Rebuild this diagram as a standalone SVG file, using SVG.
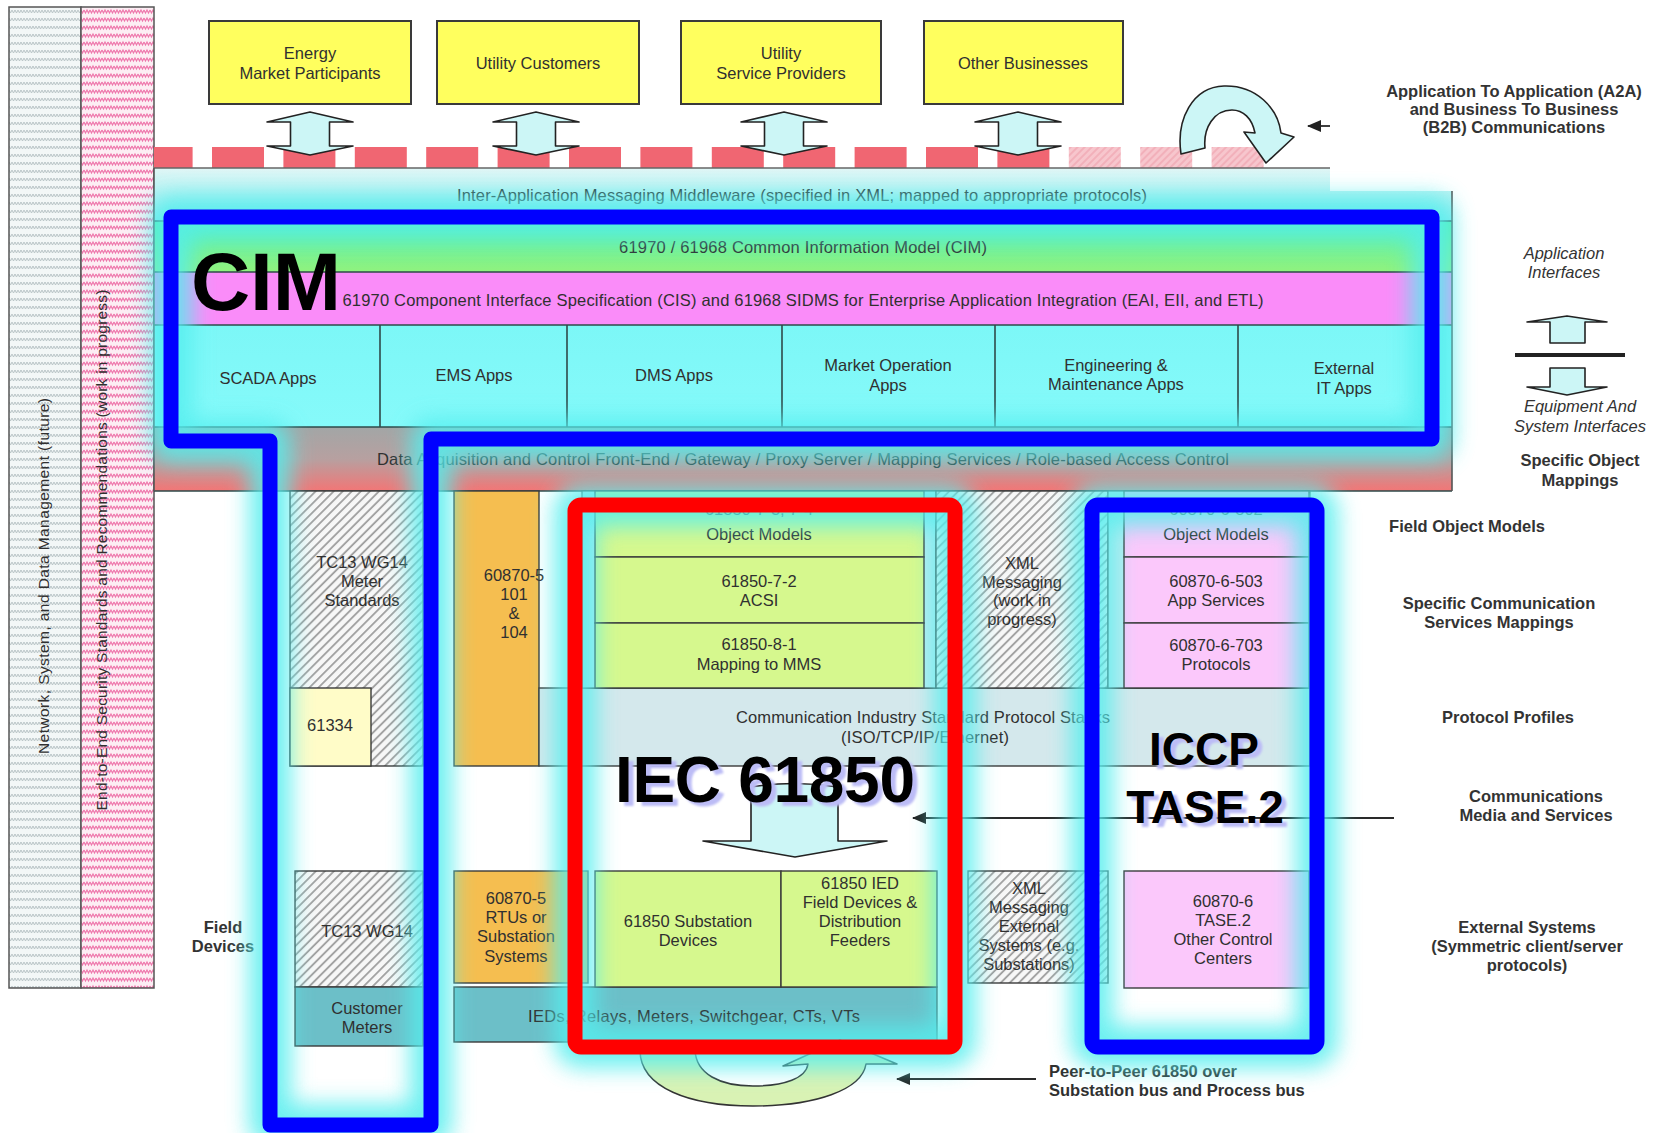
<svg xmlns="http://www.w3.org/2000/svg" width="1665" height="1133" viewBox="0 0 1665 1133">
<defs>
<style>
text{font-family:"Liberation Sans",Arial,Helvetica,sans-serif;fill:#303030;font-size:16.5px}
.c{text-anchor:middle}
.lbl{font-weight:bold;fill:#333;text-anchor:middle}
.it{font-style:italic;fill:#333;text-anchor:middle}
.yel{fill:#ffff5e;stroke:#3a3a3a;stroke-width:2}
.bx{stroke:#3a3a3a;stroke-width:1.4}
.ln{stroke:#2f4a4a;stroke-width:1.6;fill:none}
.barrow{fill:#ccf6f6;stroke:#222;stroke-width:1.6;stroke-linejoin:round}
.red{fill:#f06672}
.fade{fill:url(#fadeHatch)}
.big{font-weight:bold;fill:#000}
.bigsh{font-weight:bold;fill:#bcbcf6}
.f82{font-size:82px}
.f64{font-size:64px}
.f46{font-size:46px}
.f15{font-size:15.5px}
.glow{fill:none;stroke:#55eeee;stroke-width:42;opacity:.85;filter:url(#blur);stroke-linejoin:round}
.hl{fill:none;stroke-width:15;stroke-linejoin:round}
.conn{stroke:#2a2a2a;stroke-width:1.8;fill:none}
.hatch{fill:url(#hatch)}
.green{fill:#d6f88e}
.pink{fill:#fbc8fb}
.teal{fill:#6cbfc8}
.orange{fill:#f5be50}
.frame{fill:#b8ebf0;stroke:#3a4a4a;stroke-width:1.2}
</style>
<pattern id="hatch" patternUnits="userSpaceOnUse" width="6.4" height="6.4" patternTransform="rotate(45)">
<rect width="6.4" height="6.4" fill="#f7f7f7"/>
<line x1="1" y1="0" x2="1" y2="6.4" stroke="#9e9e9e" stroke-width="1.8"/>
</pattern>
<pattern id="fadeHatch" patternUnits="userSpaceOnUse" width="5" height="5" patternTransform="rotate(45)">
<rect width="5" height="5" fill="#f7c6cd"/>
<line x1="1" y1="0" x2="1" y2="5" stroke="#f0a2ae" stroke-width="1.2"/>
</pattern>
<pattern id="zzGrey" patternUnits="userSpaceOnUse" width="6" height="8">
<rect width="6" height="8" fill="#f3f7f7"/>
<path d="M0,2 L1.5,5 L3,2 L4.5,5 L6,2" fill="none" stroke="#b9c4c6" stroke-width="1"/>
</pattern>
<pattern id="zzPink" patternUnits="userSpaceOnUse" width="6" height="8">
<rect width="6" height="8" fill="#fdeef4"/>
<path d="M0,2 L1.5,5 L3,2 L4.5,5 L6,2" fill="none" stroke="#ee74aa" stroke-width="1.1"/>
</pattern>
<linearGradient id="gMid" x1="0" y1="0" x2="0" y2="1"><stop offset="0" stop-color="#e0f6f6"/><stop offset="1" stop-color="#90eded"/></linearGradient>
<linearGradient id="gCim" x1="0" y1="0" x2="0" y2="1"><stop offset="0" stop-color="#58f0aa"/><stop offset="1" stop-color="#90f27e"/></linearGradient>
<linearGradient id="gApps" x1="0" y1="0" x2="0" y2="1"><stop offset="0" stop-color="#7cf7f7"/><stop offset="1" stop-color="#86fafa"/></linearGradient>
<linearGradient id="gDaq" x1="0" y1="0" x2="0" y2="1"><stop offset="0" stop-color="#a2a6a6"/><stop offset="0.5" stop-color="#b7a0a0"/><stop offset="1" stop-color="#f27676"/></linearGradient>
<filter id="blur" filterUnits="userSpaceOnUse" x="0" y="0" width="1665" height="1133"><feGaussianBlur stdDeviation="11"/></filter>
<filter id="soft" filterUnits="userSpaceOnUse" x="0" y="0" width="1665" height="1133"><feGaussianBlur stdDeviation="1.2"/></filter>
<marker id="ah" markerUnits="userSpaceOnUse" markerWidth="14" markerHeight="12" refX="13" refY="6" orient="auto"><path d="M0,0 L14,6 L0,12 Z" fill="#222"/></marker>
</defs>
<rect width="1665" height="1133" fill="#ffffff"/>

<g id="side-bars">
<rect x="9" y="7" width="72" height="981" fill="url(#zzGrey)" stroke="#555" stroke-width="1.5"/>
<rect x="81" y="7" width="73" height="981" fill="url(#zzPink)" stroke="#555" stroke-width="1.5"/>
<text transform="translate(49,576) rotate(-90)" class="c f15" textLength="356">Network, System, and Data Management  (future)</text>
<text transform="translate(107,550) rotate(-90)" class="c f15" textLength="521">End-to-End Security Standards and Recommendations (work in progress)</text>
</g>

<g id="node-energy-market"><rect x="209" y="21" width="202" height="83" class="yel"/><text x="310" y="59" class="c">Energy</text><text x="310" y="79" class="c">Market Participants</text></g>
<g id="node-utility-customers"><rect x="437" y="21" width="202" height="83" class="yel"/><text x="538" y="69" class="c">Utility Customers</text></g>
<g id="node-service-providers"><rect x="681" y="21" width="200" height="83" class="yel"/><text x="781" y="59" class="c">Utility</text><text x="781" y="79" class="c">Service Providers</text></g>
<g id="node-other-businesses"><rect x="924" y="21" width="199" height="83" class="yel"/><text x="1023" y="69" class="c">Other Businesses</text></g>

<g id="b2b-bus">
<rect x="154" y="147" width="38.6" height="21" class="red"/>
<rect x="212" y="147" width="52" height="21" class="red"/>
<rect x="283.4" y="147" width="52" height="21" class="red"/>
<rect x="354.8" y="147" width="52" height="21" class="red"/>
<rect x="426.2" y="147" width="52" height="21" class="red"/>
<rect x="497.6" y="147" width="52" height="21" class="red"/>
<rect x="569" y="147" width="52" height="21" class="red"/>
<rect x="640.4" y="147" width="52" height="21" class="red"/>
<rect x="711.8" y="147" width="52" height="21" class="red"/>
<rect x="783.2" y="147" width="52" height="21" class="red"/>
<rect x="854.6" y="147" width="52" height="21" class="red"/>
<rect x="926" y="147" width="52" height="21" class="red"/>
<rect x="997.4" y="147" width="52" height="21" class="red"/>
<rect x="1068.8" y="147" width="52" height="21" class="fade"/>
<rect x="1140.2" y="147" width="52" height="21" class="fade"/>
<rect x="1211.6" y="147" width="52" height="21" class="fade"/>
</g>

<g id="node-middleware">
<path d="M154,168 H1330 V191 H1452 V221 H154 Z" fill="url(#gMid)"/>
<line x1="154" y1="168" x2="1330" y2="168" stroke="#666" stroke-width="1.6"/>
<text x="802" y="201" class="c" fill="#3a4a4a" textLength="690">Inter-Application Messaging Middleware (specified in XML; mapped to appropriate protocols)</text>
</g>
<g id="node-cim-layer">
<rect x="154" y="221" width="1298" height="51" fill="url(#gCim)"/>
<text x="803" y="253" class="c" textLength="368">61970 / 61968 Common Information Model (CIM)</text>
</g>
<g id="node-cis-layer">
<rect x="154" y="272" width="1298" height="53" fill="#fa8cf9"/>
<text x="803" y="306" class="c" fill="#3a1e3a" textLength="921">61970 Component Interface Specification (CIS) and 61968 SIDMS for Enterprise Application Integration (EAI, EII, and ETL)</text>
</g>
<g id="node-apps">
<rect x="154" y="325" width="1298" height="102" fill="url(#gApps)"/>
<path d="M380,325 V427 M567,325 V427 M782,325 V427 M995,325 V427 M1238,325 V427" class="ln"/>
<text x="268" y="384" class="c">SCADA Apps</text>
<text x="474" y="381" class="c">EMS Apps</text>
<text x="674" y="381" class="c">DMS Apps</text>
<text x="888" y="371" class="c">Market Operation</text><text x="888" y="391" class="c">Apps</text>
<text x="1116" y="371" class="c">Engineering &amp;</text><text x="1116" y="390" class="c">Maintenance Apps</text>
<text x="1344" y="374" class="c">External</text><text x="1344" y="394" class="c">IT Apps</text>
</g>
<g id="node-data-acquisition">
<rect x="154" y="427" width="1298" height="64" fill="url(#gDaq)"/>
<text x="803" y="465" class="c" textLength="852">Data Acquisition and Control Front-End / Gateway / Proxy Server / Mapping Services / Role-based Access Control</text>
</g>
<g id="panel-borders">
<path d="M154,221 H1452 M154,272 H1452 M154,325 H1452 M154,427 H1452 M154,491 H1452" class="ln"/>
<path d="M154,168 V491 M1452,191 V491" stroke="#555" stroke-width="1.6" fill="none"/>
</g>

<g id="node-tc13-meter-standards">
<rect x="290" y="491" width="133" height="275" class="hatch bx"/>
<text x="362" y="568" class="c">TC13 WG14</text><text x="362" y="587" class="c">Meter</text><text x="362" y="606" class="c">Standards</text>
</g>
<g id="node-61334"><rect x="290" y="688" width="81" height="78" fill="#fffcc8" class="bx"/><text x="330" y="731" class="c">61334</text></g>
<g id="node-60870-5-101-104">
<rect x="454" y="491" width="85" height="275" class="orange bx"/>
<text x="514" y="581" class="c">60870-5</text><text x="514" y="600" class="c">101</text><text x="514" y="619" class="c">&amp;</text><text x="514" y="638" class="c">104</text>
</g>
<g id="node-protocol-stacks">
<rect x="539" y="688" width="771" height="78" fill="#d4e8ec" class="bx"/>
<text x="736" y="723" textLength="374">Communication Industry Standard Protocol Stacks</text>
<text x="841" y="743" textLength="168">(ISO/TCP/IP/Ethernet)</text>
</g>
<g id="node-61850-stack">
<rect x="582" y="491" width="354" height="197" class="frame"/>
<rect x="595" y="491" width="329" height="66" class="green bx"/>
<text x="759" y="515" class="c">61850-7-3, 7-4</text>
<text x="759" y="540" class="c">Object Models</text>
<rect x="595" y="557" width="329" height="66" class="green bx"/>
<text x="759" y="587" class="c">61850-7-2</text><text x="759" y="606" class="c">ACSI</text>
<rect x="595" y="623" width="329" height="65" class="green bx"/>
<text x="759" y="650" class="c">61850-8-1</text><text x="759" y="670" class="c">Mapping to MMS</text>
</g>
<g id="node-xml-messaging">
<rect x="936" y="491" width="172" height="197" class="hatch bx"/>
<text x="1022" y="569" class="c">XML</text><text x="1022" y="588" class="c">Messaging</text><text x="1022" y="606" class="c">(work in</text><text x="1022" y="625" class="c">progress)</text>
</g>
<g id="node-iccp-stack">
<rect x="1108" y="491" width="202" height="197" class="frame"/>
<rect x="1124" y="491" width="185" height="66" class="pink bx"/>
<text x="1216" y="515" class="c">60870-6-802</text>
<text x="1216" y="540" class="c">Object Models</text>
<rect x="1124" y="557" width="185" height="66" class="pink bx"/>
<text x="1216" y="587" class="c">60870-6-503</text><text x="1216" y="606" class="c">App Services</text>
<rect x="1124" y="623" width="185" height="65" class="pink bx"/>
<text x="1216" y="651" class="c">60870-6-703</text><text x="1216" y="670" class="c">Protocols</text>
</g>

<g id="node-tc13-wg14"><rect x="295" y="871" width="128" height="116" class="hatch bx"/><text x="367" y="937" class="c">TC13 WG14</text></g>
<g id="node-customer-meters"><rect x="295" y="987" width="128" height="59" class="teal bx"/><text x="367" y="1014" class="c">Customer</text><text x="367" y="1033" class="c">Meters</text></g>
<g id="node-rtus"><rect x="454" y="871" width="134" height="112" class="orange bx"/>
<text x="516" y="904" class="c">60870-5</text><text x="516" y="923" class="c">RTUs or</text><text x="516" y="942" class="c">Substation</text><text x="516" y="962" class="c">Systems</text></g>
<g id="node-ieds"><rect x="454" y="987" width="483" height="55" class="teal bx"/><text x="528" y="1022" textLength="332">IEDs, Relays, Meters, Switchgear, CTs, VTs</text></g>
<g id="node-61850-substation"><rect x="595" y="871" width="186" height="116" class="green bx"/><text x="688" y="927" class="c">61850 Substation</text><text x="688" y="946" class="c">Devices</text></g>
<g id="node-61850-ied"><rect x="781" y="871" width="156" height="116" class="green bx"/>
<text x="860" y="889" class="c">61850 IED</text><text x="860" y="908" class="c">Field Devices &amp;</text><text x="860" y="927" class="c">Distribution</text><text x="860" y="946" class="c">Feeders</text></g>
<g id="node-xml-external"><rect x="968" y="871" width="140" height="112" class="hatch bx"/>
<text x="1029" y="894" class="c">XML</text><text x="1029" y="913" class="c">Messaging</text><text x="1029" y="932" class="c">External</text><text x="1029" y="951" class="c">Systems (e.g.</text><text x="1029" y="970" class="c">Substations)</text></g>
<g id="node-tase2-centers"><rect x="1124" y="871" width="185" height="117" class="pink bx"/>
<text x="1223" y="907" class="c">60870-6</text><text x="1223" y="926" class="c">TASE.2</text><text x="1223" y="945" class="c">Other Control</text><text x="1223" y="964" class="c">Centers</text></g>

<g id="connectors">
<polygon class="barrow" points="310,112 353,122 329.5,122 329.5,146 353,146 310,155 267,146 290.5,146 290.5,122 267,122"/>
<polygon class="barrow" points="536,112 579,122 555.5,122 555.5,146 579,146 536,155 493,146 516.5,146 516.5,122 493,122"/>
<polygon class="barrow" points="784,112 827,122 803.5,122 803.5,146 827,146 784,155 741,146 764.5,146 764.5,122 741,122"/>
<polygon class="barrow" points="1018,112 1061,122 1037.5,122 1037.5,146 1061,146 1018,155 975,146 998.5,146 998.5,122 975,122"/>
<path class="barrow" d="M1181,154 C1176,120 1192,87 1224,86 C1256,85 1278,108 1281,133 L1294,137 L1266,163 L1244,132 L1255,133 C1252,118 1243,110 1232,110 C1214,110 1203,128 1205,148 Z"/>
<line x1="1330" y1="126" x2="1308" y2="126" class="conn" marker-end="url(#ah)"/>
<line x1="1394" y1="818" x2="913" y2="818" class="conn" marker-end="url(#ah)"/>
<path class="barrow" d="M751,787 Q794,780 838,787 V841 H887 L795,857 L703,841 H751 Z"/>
<path d="M640,1050 C640,1088 690,1106 753,1106 C815,1106 862,1090 866,1064 L897,1064 L840,1040 L783,1066 L808,1064 C806,1078 785,1086 753,1086 C720,1086 696,1074 695,1050 Z" fill="#d9f2b4" stroke="#333" stroke-width="1.5" stroke-linejoin="round"/>
<line x1="1036" y1="1079" x2="897" y2="1079" class="conn" marker-end="url(#ah)"/>
<polygon class="barrow" points="1567,316 1607,322 1585,322 1585,343 1550,343 1550,322 1527,322"/>
<line x1="1515" y1="355" x2="1625" y2="355" stroke="#222" stroke-width="4"/>
<polygon class="barrow" points="1550,368 1585,368 1585,387 1607,387 1567,395 1527,387 1550,387"/>
</g>

<g id="side-labels">
<text x="1514" y="97" class="lbl">Application To Application (A2A)</text>
<text x="1514" y="115" class="lbl">and Business To Business</text>
<text x="1514" y="133" class="lbl">(B2B) Communications</text>
<text x="1564" y="259" class="it">Application</text><text x="1564" y="278" class="it">Interfaces</text>
<text x="1580" y="412" class="it">Equipment And</text><text x="1580" y="432" class="it">System Interfaces</text>
<text x="1580" y="466" class="lbl">Specific Object</text><text x="1580" y="486" class="lbl">Mappings</text>
<text x="1467" y="532" class="lbl">Field Object Models</text>
<text x="1499" y="609" class="lbl">Specific Communication</text><text x="1499" y="628" class="lbl">Services Mappings</text>
<text x="1508" y="723" class="lbl">Protocol Profiles</text>
<text x="1536" y="802" class="lbl">Communications</text><text x="1536" y="821" class="lbl">Media and Services</text>
<text x="1527" y="933" class="lbl">External Systems</text><text x="1527" y="952" class="lbl">(Symmetric client/server</text><text x="1527" y="971" class="lbl">protocols)</text>
<text x="223" y="933" class="lbl">Field</text><text x="223" y="952" class="lbl">Devices</text>
<text x="1049" y="1077" font-weight="bold" fill="#333">Peer-to-Peer 61850 over</text>
<text x="1049" y="1096" font-weight="bold" fill="#333">Substation bus and Process bus</text>
</g>

<g id="highlight-glow">
<path class="glow" d="M171,217 H1432 V439 H431 V1125 H270 V441 H171 Z"/>
<rect class="glow" x="575" y="505" width="380" height="542" rx="6"/>
<rect class="glow" x="1092" y="505" width="225" height="542" rx="6"/>
</g>

<g id="highlight-cim">
<path class="hl" stroke="#0000ff" d="M171,217 H1432 V439 H431 V1125 H270 V441 H171 Z"/>
<text x="191" y="310" class="big f82" textLength="150">CIM</text>
</g>
<g id="highlight-iec61850">
<rect class="hl" stroke="#ff0000" x="575" y="505" width="380" height="542" rx="6"/>
<text x="620" y="806" class="bigsh f64" textLength="300" filter="url(#soft)">IEC 61850</text>
<text x="615" y="802" class="big f64" textLength="300">IEC 61850</text>
</g>
<g id="highlight-iccp">
<rect class="hl" stroke="#0000ff" x="1092" y="505" width="225" height="542" rx="6"/>
<text x="1209" y="769" class="bigsh c f46" filter="url(#soft)">ICCP</text>
<text x="1210" y="827" class="bigsh c f46" filter="url(#soft)">TASE.2</text>
<text x="1204" y="765" class="big c f46">ICCP</text>
<text x="1205" y="823" class="big c f46">TASE.2</text>
</g>
</svg>
